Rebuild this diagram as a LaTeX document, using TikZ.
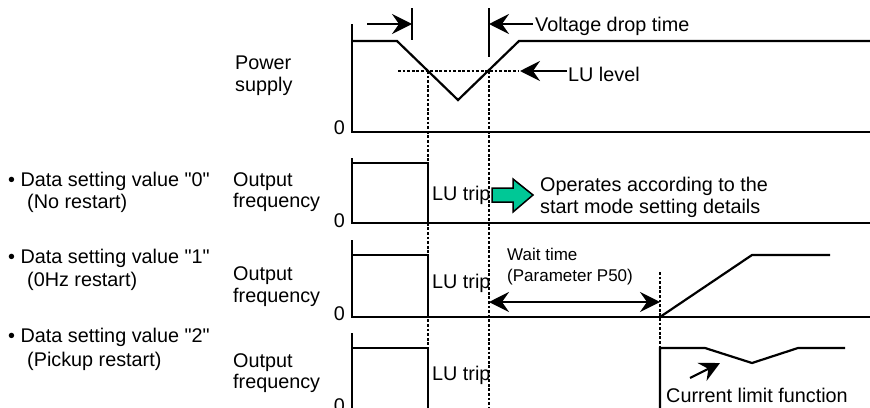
\documentclass[tikz,border=0pt]{standalone}
\usepackage{fontspec}
\setmainfont{Liberation Sans}[Ligatures=TeXOff]
\usetikzlibrary{arrows.meta}
\definecolor{arrgreen}{RGB}{0,200,150}
\begin{document}
\begin{tikzpicture}[x=1pt,y=-1pt,
  wave/.style={line width=2.2pt, line join=miter},
  dots/.style={line width=2.6pt, dash pattern=on 2.8pt off 1.8pt},
  lbl/.style={anchor=base west, inner sep=0pt, font=\fontsize{19.8}{22}\selectfont},
  lblr/.style={anchor=base east, inner sep=0pt, font=\fontsize{19.8}{22}\selectfont},
  small/.style={anchor=base west, inner sep=0pt, font=\fontsize{17}{20}\selectfont},
  tipone/.style={-{Stealth[length=20pt,width=20pt,inset=7pt]}, line width=2.2pt},
  tiptwo/.style={{Stealth[length=20pt,width=20pt,inset=7pt]}-{Stealth[length=20pt,width=20pt,inset=7pt]}, line width=2.2pt},
]
\clip (0,0) rectangle (870,407);

% ---------- Power supply ----------
\node[lbl] (pw1) at (235,69) {Power};
\node[lbl] (pw2) at (235,91) {supply};
\node[lblr] (z1) at (345,134) {0};
\draw[wave] (352,24) -- (352,132) -- (870,132);
\draw[wave] (352,41) -- (397,41) -- (458,100) -- (519,41) -- (870,41);
\draw[dots] (398,71) -- (518,71);
\draw[dots] (428,71) -- (428,412);
\draw[dots] (489,71) -- (489,412);
% voltage drop time
\draw[wave] (412,8) -- (412,40);
\draw[wave] (489,8) -- (489,57);
\coordinate (vl0) at (367,24);
\coordinate (vl1) at (412,24);
\coordinate (vr0) at (533,24);
\coordinate (vr1) at (489,24);
\draw[tipone] (vl0) -- (vl1);
\draw[tipone] (vr0) -- (vr1);
\node[lbl] (vdt) at (535,31.5) {Voltage drop time};
% LU level
\coordinate (lu0) at (567,71);
\coordinate (lu1) at (520,71);
\draw[tipone] (lu0) -- (lu1);
\node[lbl] (lul) at (568,81) {LU level};

% ---------- Setting 0 ----------
\node[lbl] (d0a) at (8,186) {• Data setting value "0"};
\node[lbl] (d0b) at (27,208) {(No restart)};
\node[lbl] (o0a) at (233,186.5) {Output};
\node[lbl] (o0b) at (233,207.5) {frequency};
\node[lblr] (z2) at (345,227) {0};
\draw[wave] (352,158) -- (352,223) -- (870,223);
\draw[wave] (352,163) -- (428,163) -- (428,223);
\node[lbl] (lt0) at (432,200) {LU trip};
\draw[line width=1.5pt, fill=arrgreen, line join=miter]
  (492,188) -- (513,188) -- (513,179) -- (533,195) -- (513,212) -- (513,202) -- (492,202) -- cycle;
\node[lbl] (op1) at (540,191) {Operates according to the};
\node[lbl] (op2) at (540,213) {start mode setting details};

% ---------- Setting 1 ----------
\node[lbl] (d1a) at (8,263) {• Data setting value "1"};
\node[lbl] (d1b) at (27,286) {(0Hz restart)};
\node[lbl] (o1a) at (233,280) {Output};
\node[lbl] (o1b) at (233,302) {frequency};
\node[lblr] (z3) at (345,320) {0};
\draw[wave] (352,240) -- (352,317) -- (870,317);
\draw[wave] (352,255) -- (428,255) -- (428,317);
\draw[wave] (660,317) -- (752,255) -- (830,255);
\draw[dots] (660,272) -- (660,412);
\node[lbl] (lt1) at (432,288) {LU trip};
\coordinate (w0) at (489,302);
\coordinate (w1) at (660,302);
\draw[tiptwo] (w0) -- (w1);
\node[small] (wt1) at (507,260) {Wait time};
\node[small] (wt2) at (507,281) {(Parameter P50)};

% ---------- Setting 2 ----------
\node[lbl] (d2a) at (8,342) {• Data setting value "2"};
\node[lbl] (d2b) at (27,366) {(Pickup restart)};
\node[lbl] (o2a) at (233,367) {Output};
\node[lbl] (o2b) at (233,388) {frequency};
\node[lblr] (z4) at (345,412) {0};
\draw[wave] (352,333) -- (352,409) -- (870,409);
\draw[wave] (352,348) -- (428,348) -- (428,409);
\draw[wave] (660,409) -- (660,348) -- (705,348) -- (752,363) -- (798,348) -- (845,348);
\node[lbl] (lt2) at (432,380) {LU trip};
\coordinate (c0) at (690,378);
\coordinate (c1) at (720,363);
\draw[tipone] (c0) -- (c1);
\node[lbl] (clf) at (666,402) {Current limit function};
\end{tikzpicture}
\end{document}
